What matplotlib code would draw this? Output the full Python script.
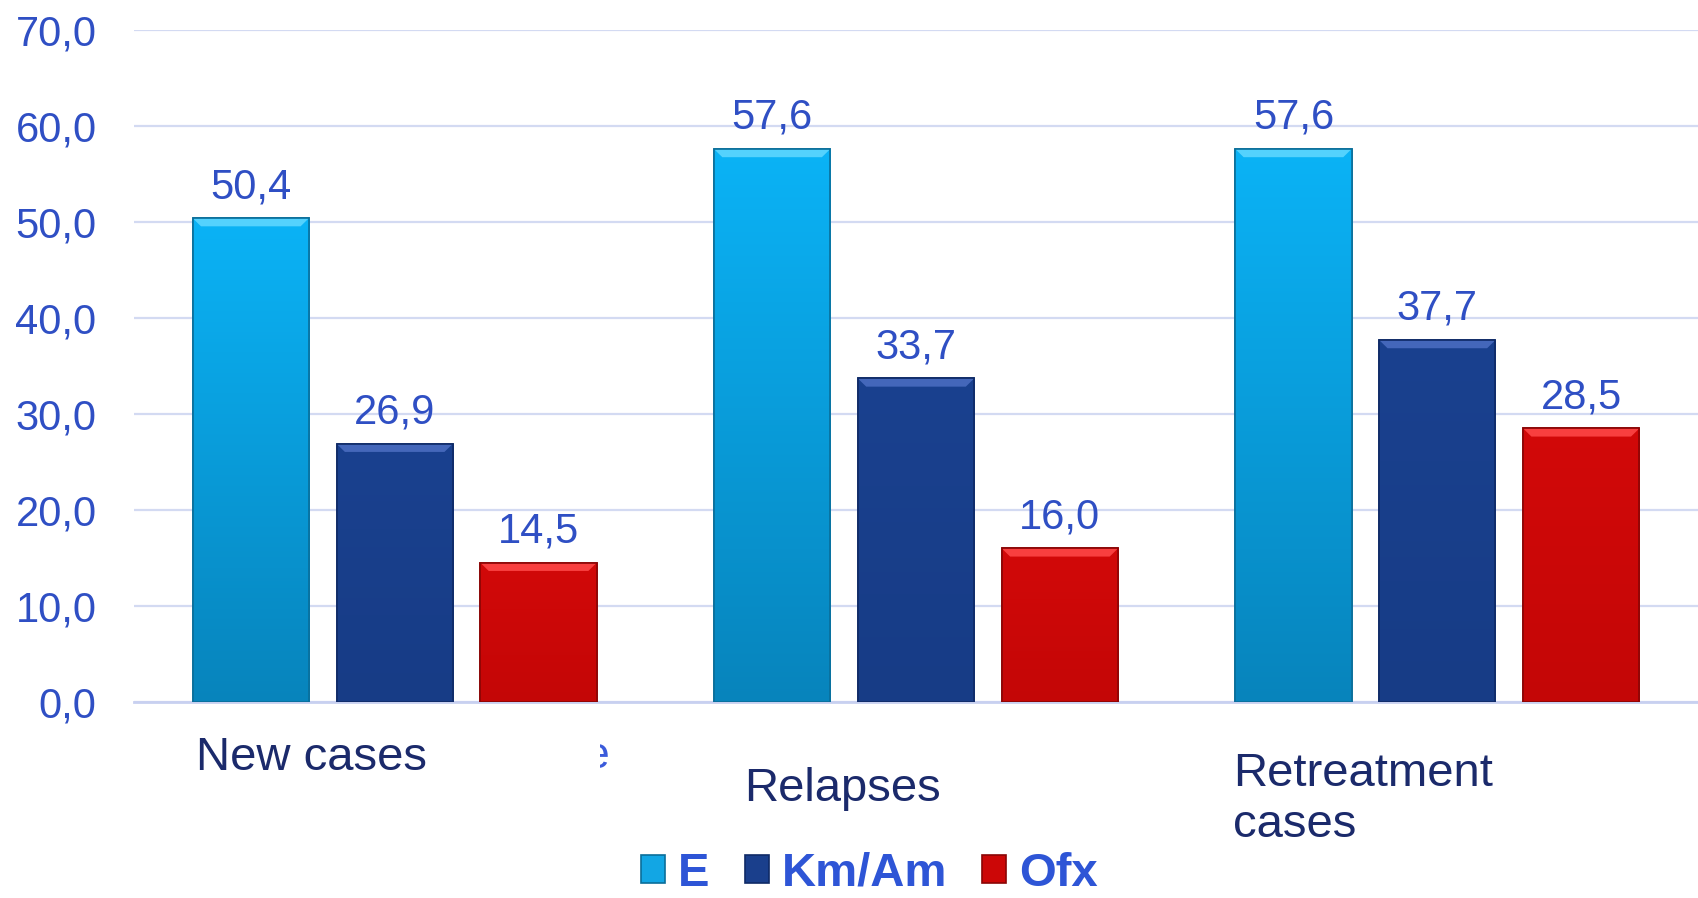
import numpy as np
import matplotlib.pyplot as plt
from matplotlib.patches import Polygon, Rectangle
from matplotlib.colors import to_rgb

plt.rcParams['font.family'] = ['Liberation Sans', 'DejaVu Sans']

categories = ["New cases", "Relapses", "Retreatment\ncases"]
series = ["E", "Km/Am", "Ofx"]
e_vals = [50.4, 57.6, 57.6]
km_vals = [26.9, 33.7, 37.7]
ofx_vals = [14.5, 16.0, 28.5]
yticks = [0, 10, 20, 30, 40, 50, 60, 70]

# top colour, bottom colour, edge, bevel, legend swatch
styles = [
    ('#0BB3F6', '#0784BC', '#0A6E9A', '#62D8FF', '#12A6E4'),
    ('#1A418F', '#173C86', '#0F2A66', '#4C6EC2', '#1A3F8C'),
    ('#D20909', '#C40606', '#8A0505', '#FF4A4A', '#CC0707'),
]

tick_col = '#2F4FC4'
cat_col = '#1B2A6B'
leg_col = '#2E55D6'

fig = plt.figure(figsize=(16.98, 8.98), dpi=100)
ax = fig.add_axes([134 / 1698, 1 - 702 / 898, 1 - 134 / 1698, (702 - 30) / 898])

x = np.arange(len(categories))
width = 0.223
offsets = [-0.276, 0, 0.276]
all_vals = [e_vals, km_vals, ofx_vals]

bevel_h = 0.85
bevel_in = 0.016

for vals, off, (ctop, cbot, cedge, cbev, cleg), name in zip(all_vals, offsets, styles, series):
    bars = ax.bar(x + off, vals, width, color=cbot, edgecolor=cedge, linewidth=1.2,
                  label=name, zorder=3)
    grad = np.linspace(0, 1, 256)[:, None]
    c1, c2 = np.array(to_rgb(ctop)), np.array(to_rgb(cbot))
    img = (c1[None, None, :] * (1 - grad[..., None]) + c2[None, None, :] * grad[..., None])
    for b, v in zip(bars, vals):
        x0 = b.get_x()
        w = b.get_width()
        im = ax.imshow(img, extent=[x0, x0 + w, 0, v], aspect='auto', zorder=3.5,
                       interpolation='bilinear')
        im.set_clip_path(b)
        bev = Polygon([[x0, v], [x0 + w, v], [x0 + w - bevel_in, v - bevel_h],
                       [x0 + bevel_in, v - bevel_h]], closed=True,
                      facecolor=cbev, edgecolor='none', alpha=0.85, zorder=4)
        ax.add_patch(bev)
        ax.add_patch(Rectangle((x0, 0), w, v, facecolor='none', edgecolor=cedge,
                               linewidth=1.2, zorder=4.5))
        ax.annotate(f"{v:.1f}".replace('.', ','), (x0 + w / 2, v), xytext=(0, 14.5),
                    textcoords='offset points', ha='center', va='baseline',
                    fontsize=30, color=tick_col, zorder=5)

ax.set_xlim(-0.5, 2.5)
ax.set_ylim(0, 70)
ax.set_yticks(yticks)
ax.set_yticklabels([f"{t:.1f}".replace('.', ',') for t in yticks], fontsize=30, color=tick_col)
ax.set_xticks([])
ax.tick_params(axis='y', length=0, pad=27)
ax.grid(axis='y', color='#D3DAF2', linewidth=1.6, zorder=0)
ax.set_axisbelow(True)
for s in ['top', 'right', 'left']:
    ax.spines[s].set_visible(False)
ax.spines['bottom'].set_color('#C8D0F0')
ax.spines['bottom'].set_linewidth(2)

# category labels, left aligned under each group (baseline of last line)
cat_x = [-0.381, 0.671, 1.609]
cat_y = [-0.101, -0.147, -0.201]
for cx, cy, lab in zip(cat_x, cat_y, categories):
    ax.text(cx, cy, lab, transform=ax.get_xaxis_transform(), ha='left', va='baseline',
            fontsize=34, color=cat_col, linespacing=1.2)

# clipped leftover glyph
stray = fig.text(584 / 1698, 1 - 768 / 898, 'e', fontsize=32, color='#3B5BDB',
                 ha='left', va='baseline')
stray.set_clip_path(Rectangle((600 / 1698, 0), 30 / 1698, 1, transform=fig.transFigure))

leg = fig.legend(loc='center', bbox_to_anchor=(0.512, 0.027), ncol=3, frameon=False,
                 handlelength=0.51, handleheight=0.51, handletextpad=0.27,
                 columnspacing=0.75, borderpad=0.1,
                 prop={'size': 34, 'weight': 'bold'})
for t in leg.get_texts():
    t.set_color(leg_col)
for h, st in zip(leg.legend_handles, styles):
    h.set_facecolor(st[4])
    h.set_edgecolor(st[2])

fig.savefig('out.png', dpi=100)
